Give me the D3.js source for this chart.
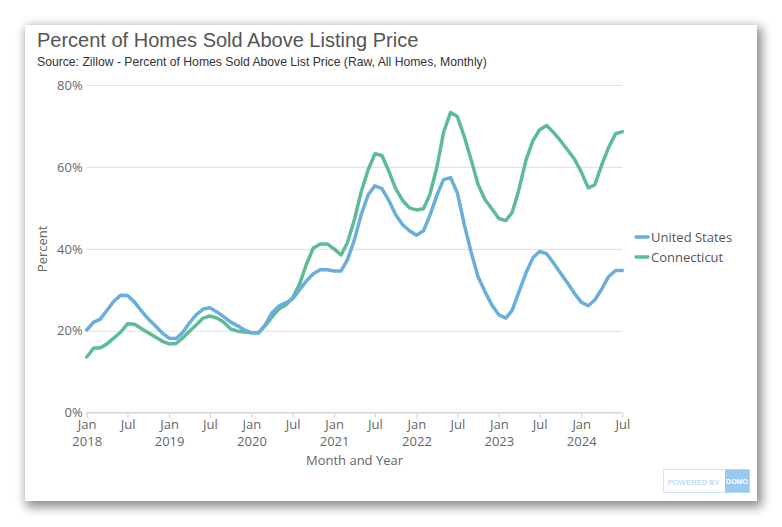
<!DOCTYPE html>
<html>
<head>
<meta charset="utf-8">
<script src="https://cdn.jsdelivr.net/npm/d3@7"></script>
<style>
  html, body { margin: 0; padding: 0; background: #ffffff; }
  body { width: 782px; height: 527px; position: relative; overflow: hidden; }
  #card { position: absolute; left: 25px; top: 25px; width: 732px; height: 476px; background: #fff;
          box-shadow: 3px 4px 10px 2px rgba(0,0,0,0.45); }
  svg { position: absolute; left: 0; top: 0; }
</style>
</head>
<body>
<div id="card"></div>
<svg id="chart" width="782" height="527"></svg>
<script>
const startYear = 2018, startMonth = 0;
const usValues = [
  20.2, 22.1, 22.8, 25.0, 27.2, 28.7, 28.6, 27.0, 24.8, 22.9, 21.2, 19.5,
  18.2, 18.1, 19.5, 21.9, 23.9, 25.3, 25.6, 24.6, 23.4, 22.1, 21.2, 20.2,
  19.5, 19.5, 21.4, 24.4, 26.0, 26.8, 27.8, 30.0, 32.2, 33.9, 34.9, 34.9,
  34.6, 34.6, 37.3, 42.2, 48.3, 53.2, 55.4, 54.7, 51.8, 48.3, 45.9, 44.4,
  43.3, 44.4, 48.1, 53.0, 56.9, 57.4, 53.7, 45.9, 39.0, 33.2, 29.5, 26.3,
  23.9, 23.1, 25.0, 29.7, 34.1, 37.8, 39.4, 38.8, 36.5, 34.1, 31.7, 29.2,
  27.0, 26.1, 27.5, 30.2, 33.2, 34.7, 34.7
];
const ctValues = [
  13.6, 15.8, 15.8, 16.8, 18.2, 19.7, 21.7, 21.6, 20.5, 19.5, 18.5, 17.5,
  16.8, 16.9, 18.2, 19.9, 21.4, 23.1, 23.6, 23.1, 22.1, 20.4, 19.9, 19.7,
  19.5, 19.5, 21.2, 23.4, 25.3, 26.3, 28.0, 31.4, 36.3, 40.2, 41.2, 41.2,
  40.0, 38.5, 41.5, 47.1, 53.9, 59.3, 63.2, 62.8, 58.9, 54.7, 51.8, 50.0,
  49.5, 49.8, 53.2, 59.8, 68.4, 73.3, 72.3, 67.4, 61.6, 55.7, 52.0, 49.8,
  47.4, 46.9, 48.9, 54.7, 61.6, 66.4, 69.1, 70.1, 68.4, 66.4, 64.2, 62.0,
  58.8, 54.9, 55.6, 60.5, 64.7, 68.1, 68.6
];
const seriesNames = ["United States", "Connecticut"];
const seriesColors = ["#6aaedb", "#5dbb98"];
const yTicks = [0, 20, 40, 60, 80];
const monthNames = ["Jan","Feb","Mar","Apr","May","Jun","Jul","Aug","Sep","Oct","Nov","Dec"];
const titleText = "Percent of Homes Sold Above Listing Price";
const subtitleText = "Source: Zillow - Percent of Homes Sold Above List Price (Raw, All Homes, Monthly)";
const xTitle = "Month and Year";
const yTitle = "Percent";

const dates = usValues.map((_, i) => new Date(startYear, startMonth + i, 1));
const series = [usValues, ctValues].map((vals, s) => ({
  name: seriesNames[s], color: seriesColors[s],
  points: vals.map((v, i) => ({ date: dates[i], value: v }))
}));

const svg = d3.select("#chart");
const pLeft = 86.7, pRight = 622.3, pTop = 85, pBottom = 412.7;
const x = d3.scaleTime().domain([dates[0], dates[dates.length - 1]]).range([pLeft, pRight]);
const y = d3.scaleLinear().domain([0, 80]).range([pBottom, pTop]);

const axisFont = "'Open Sans', sans-serif";

// title
svg.append("text").attr("x", 37).attr("y", 46.5)
  .attr("font-family", "'Liberation Sans', Arial, sans-serif").attr("font-size", 20)
  .attr("fill", "#555").text(titleText);
svg.append("text").attr("x", 37).attr("y", 65.5)
  .attr("font-family", "'Liberation Sans', Arial, sans-serif").attr("font-size", 12.2)
  .attr("fill", "#333").text(subtitleText);

// gridlines
const yAxis = d3.axisLeft(y).tickValues(yTicks).tickSize(-(pRight - pLeft)).tickPadding(4)
  .tickFormat(d => d + "%");
const gy = svg.append("g").attr("transform", `translate(${pLeft},0)`).call(yAxis);
gy.select(".domain").remove();
gy.selectAll(".tick line").attr("stroke", "#e3e3e3").attr("stroke-width", 1.2);
gy.selectAll(".tick text").attr("font-family", axisFont).attr("font-size", 13)
  .attr("fill", "#666");

// x axis
const xTickDates = d3.range(0, dates.length, 6).map(i => dates[i]);
const xAxis = d3.axisBottom(x).tickValues(xTickDates).tickSize(5).tickPadding(3).tickFormat(() => "");
const gx = svg.append("g").attr("transform", `translate(0,${pBottom})`).call(xAxis);
gx.select(".domain").attr("stroke", "#d8d8d8").attr("stroke-width", 1.2).attr("d", `M${pLeft},0H${pRight}`);
gx.selectAll(".tick line").attr("stroke", "#d8d8d8").attr("stroke-width", 1.2);
gx.selectAll(".tick").each(function(d) {
  const t = d3.select(this).append("text").attr("font-family", axisFont).attr("font-size", 13)
    .attr("fill", "#666").attr("text-anchor", "middle");
  t.append("tspan").attr("x", 0).attr("y", 16).text(monthNames[d.getMonth()]);
  if (d.getMonth() === 0) t.append("tspan").attr("x", 0).attr("y", 33).text(d.getFullYear());
});

// axis titles
svg.append("text").attr("x", (pLeft + pRight) / 2).attr("y", 465)
  .attr("text-anchor", "middle").attr("font-family", axisFont).attr("font-size", 13)
  .attr("fill", "#666").text(xTitle);
svg.append("text").attr("transform", `translate(47,${(pTop + pBottom) / 2}) rotate(-90)`)
  .attr("text-anchor", "middle").attr("font-family", axisFont).attr("font-size", 13)
  .attr("fill", "#666").text(yTitle);

// lines
const line = d3.line().x(d => x(d.date)).y(d => y(d.value));
svg.append("g").selectAll("path").data(series.slice().reverse()).join("path")
  .attr("d", d => line(d.points)).attr("fill", "none").attr("stroke", d => d.color)
  .attr("stroke-width", 3.5).attr("stroke-linejoin", "round").attr("stroke-linecap", "round");

// legend
const lg = svg.append("g").attr("transform", "translate(636,237)");
series.forEach((s, i) => {
  const g = lg.append("g").attr("transform", `translate(0,${i * 20})`);
  g.append("line").attr("x1", 0).attr("x2", 12).attr("y1", 0).attr("y2", 0)
    .attr("stroke", s.color).attr("stroke-width", 3.5).attr("stroke-linecap", "round");
  g.append("text").attr("x", 15).attr("y", 4.5).attr("font-family", axisFont).attr("font-size", 13)
    .attr("fill", "#555").text(s.name);
});

// powered by domo badge
const badge = svg.append("g").attr("transform", "translate(663,469)");
badge.append("rect").attr("x", 0.5).attr("y", 0.5).attr("width", 86).attr("height", 23)
  .attr("fill", "#fff").attr("stroke", "#cfe5f5");
badge.append("rect").attr("x", 62).attr("y", 0.5).attr("width", 24.5).attr("height", 23).attr("fill", "#99c9ec");
badge.append("text").attr("x", 5).attr("y", 15.5).attr("font-family", "'Liberation Sans', Arial, sans-serif")
  .attr("font-size", 7.6).attr("fill", "#a8d0ee").text("POWERED BY");
badge.append("text").attr("x", 74).attr("y", 15).attr("text-anchor", "middle")
  .attr("font-family", "'Liberation Sans', Arial, sans-serif").attr("font-weight", "bold")
  .attr("font-size", 7).attr("fill", "#fff").text("DOMO");
</script>
</body>
</html>
